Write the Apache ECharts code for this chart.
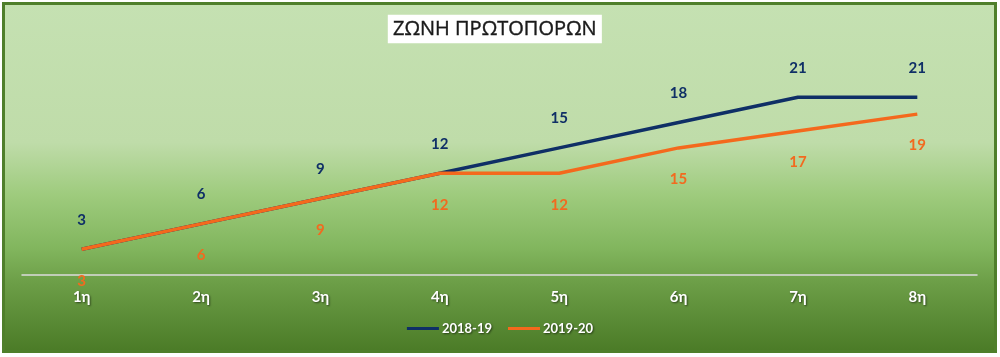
<!DOCTYPE html>
<html>
<head>
<meta charset="utf-8">
<script src="https://cdn.jsdelivr.net/npm/echarts@6/dist/echarts.min.js"></script>
<style>
html,body{margin:0;padding:0;background:#fff;}
#chart{width:1000px;height:357px;}
</style>
</head>
<body>
<div id="chart"></div>
<script>
const titleText = 'ΖΩΝΗ ΠΡΩΤΟΠΟΡΩΝ';
const categories = ['1η','2η','3η','4η','5η','6η','7η','8η'];
const seriesNames = ['2018-19','2019-20'];
const values2018 = [3,6,9,12,15,18,21,21];
const values2019 = [3,6,9,12,12,15,17,19];

const navy = '#0f2f66';
const orange = '#f4691d';
const chart = echarts.init(document.getElementById('chart'), null, {renderer:'canvas'});
const shadowTxt = {textShadowColor:'rgba(0,0,0,0.55)', textShadowBlur:2, textShadowOffsetX:1, textShadowOffsetY:1};

chart.setOption({
  backgroundColor:'#ffffff',
  animation:false,
  graphic:[{
    type:'rect', z:-10, silent:true,
    shape:{x:3.5, y:3.5, width:992, height:348},
    style:{
      fill:new echarts.graphic.LinearGradient(0,0,0,1,[
        {offset:0, color:'#c5e1b2'},
        {offset:0.40, color:'#bfdca9'},
        {offset:0.55, color:'#9ecb7d'},
        {offset:0.70, color:'#82b65e'},
        {offset:0.80, color:'#6c9e47'},
        {offset:1, color:'#4a7a26'}
      ]),
      stroke:'#4f7f2b', lineWidth:3
    }
  }],
  title:{
    text:titleText,
    left:388, top:15,
    backgroundColor:'#ffffff',
    padding:[4,5,4,5],
    itemGap:0,
    textStyle:{fontFamily:'Open Sans', fontSize:20, fontWeight:'normal', color:'#1a1a1a', textBorderColor:'#1a1a1a', textBorderWidth:0.4}
  },
  legend:{
    data:seriesNames,
    bottom:17,
    left:'center',
    icon:'rect',
    itemWidth:32, itemHeight:3,
    itemGap:16,
    textStyle:Object.assign({color:'#ffffff', fontFamily:'Lato', fontWeight:'bold', fontSize:13, padding:[0,0,0,-2]}, shadowTxt)
  },
  grid:{left:22, right:23, top:63.5, bottom:82.5},
  xAxis:{
    type:'category',
    data:categories,
    boundaryGap:true,
    axisLine:{show:true, lineStyle:{color:'#dcdcdc', width:1.5}},
    axisTick:{show:false},
    axisLabel:Object.assign({color:'#ffffff', fontFamily:'Lato', fontWeight:'bold', fontSize:15, margin:15}, shadowTxt)
  },
  yAxis:{
    type:'value', min:0, max:25,
    show:false,
    splitLine:{show:false}
  },
  series:[
    {
      name:seriesNames[0], type:'line', data:values2018,
      symbol:'circle', symbolSize:0, showSymbol:true,
      lineStyle:{color:navy, width:3.5},
      itemStyle:{color:navy},
      label:{show:true, position:'top', distance:22, color:navy, fontFamily:'Lato', fontWeight:'bold', fontSize:15},
      z:3
    },
    {
      name:seriesNames[1], type:'line', data:values2019,
      symbol:'circle', symbolSize:0, showSymbol:true,
      lineStyle:{color:orange, width:3.5},
      itemStyle:{color:orange},
      label:{show:true, position:'bottom', distance:24, color:'#f26a1f', fontFamily:'Lato', fontWeight:'bold', fontSize:15},
      z:4
    }
  ]
});
</script>
</body>
</html>
